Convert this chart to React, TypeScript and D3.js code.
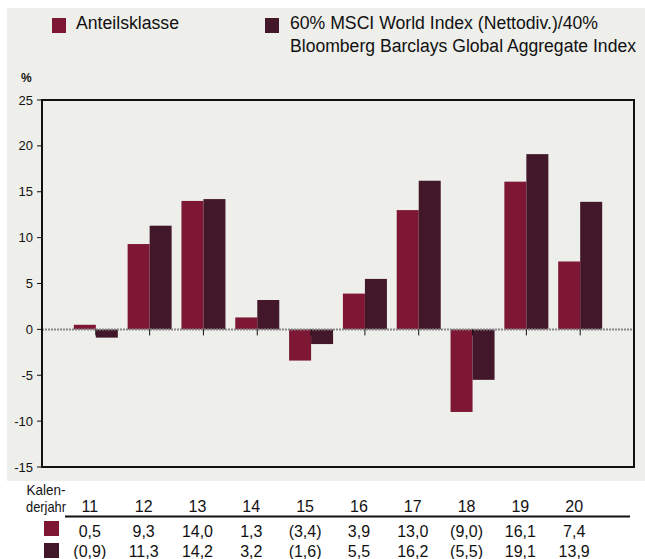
import React from "react";
import * as d3 from "d3";

const years = ["11", "12", "13", "14", "15", "16", "17", "18", "19", "20"];
const fundValues = [0.5, 9.3, 14.0, 1.3, -3.4, 3.9, 13.0, -9.0, 16.1, 7.4];
const indexValues = [-0.9, 11.3, 14.2, 3.2, -1.6, 5.5, 16.2, -5.5, 19.1, 13.9];
const yTicks = [25, 20, 15, 10, 5, 0, -5, -10, -15];
const legendFund = "Anteilsklasse";
const legendIndex1 = "60% MSCI World Index (Nettodiv.)/40%";
const legendIndex2 = "Bloomberg Barclays Global Aggregate Index";

const RED = "#7d1734";
const DARK = "#43172a";
const BG = "#eeeeea";
const FONT = "'Liberation Sans Narrow', 'Arial Narrow', 'Liberation Sans', Arial, sans-serif";

const fmt = (v: number) => {
  const s = Math.abs(v).toFixed(1).replace(".", ",");
  return v < 0 ? `(${s})` : s;
};

export default function App() {
  const W = 645, H = 559;
  const left = 42, right = 634, top = 100, bottom = 467;
  const y = d3.scaleLinear().domain([-15, 25]).range([bottom, top]);
  const x = d3.scalePoint<string>().domain(years).range([left, right]).padding(1);
  const bw = 22;
  const y0 = y(0);
  return (
    <svg width={W} height={H} style={{ position: "absolute", left: 0, top: 0 }} fontFamily={FONT}>
      <rect x={7} y={8} width={W - 7} height={473} fill={BG} />
      {/* legend */}
      <rect x={52} y={18} width={14} height={15} fill={RED} />
      <text x={76} y={29} fontSize={18} fill="#111" textLength={103} lengthAdjust="spacingAndGlyphs">{legendFund}</text>
      <rect x={265} y={18} width={14} height={15} fill={DARK} />
      <text x={290} y={29} fontSize={18} fill="#111" textLength={308} lengthAdjust="spacingAndGlyphs">{legendIndex1}</text>
      <text x={290} y={52} fontSize={18} fill="#111" textLength={346} lengthAdjust="spacingAndGlyphs">{legendIndex2}</text>
      <text x={21} y={82} fontSize={12} fontWeight="bold" fill="#111">%</text>
      {/* y ticks */}
      {yTicks.map((t) => (
        <g key={t}>
          <line x1={37} x2={left} y1={y(t)} y2={y(t)} stroke="#111" strokeWidth={1} />
          <text x={33} y={y(t)} dy="0.35em" textAnchor="end" fontSize={13} fill="#111">{t}</text>
        </g>
      ))}
      {/* bars */}
      {years.map((yr, i) => {
        const cx = x(yr) as number;
        const a = fundValues[i], b = indexValues[i];
        return (
          <g key={yr}>
            <rect x={cx - bw} y={Math.min(y(a), y0)} width={bw} height={Math.abs(y(a) - y0)} fill={RED} />
            <rect x={cx} y={Math.min(y(b), y0)} width={bw} height={Math.abs(y(b) - y0)} fill={DARK} />
          </g>
        );
      })}
      <line x1={left} x2={right} y1={y0} y2={y0} stroke="#888" strokeWidth={2} strokeDasharray="2,1" />
      {years.map((yr) => (
        <line key={yr} x1={x(yr)} x2={x(yr)} y1={y0} y2={y0 + 6} stroke="#111" strokeWidth={1} />
      ))}
      <rect x={left} y={top} width={right - left} height={bottom - top} fill="none" stroke="#111" strokeWidth={2} />
      {/* table */}
      <text x={46} y={495} fontSize={15} textAnchor="middle" fill="#111" textLength={39} lengthAdjust="spacingAndGlyphs">Kalen-</text>
      <text x={46} y={512} fontSize={15} textAnchor="middle" fill="#111" textLength={40} lengthAdjust="spacingAndGlyphs">derjahr</text>
      <line x1={65} x2={630} y1={516.5} y2={516.5} stroke="#111" strokeWidth={2} />
      <rect x={44} y={521} width={15} height={15} fill={RED} />
      <rect x={44} y={543} width={15} height={15} fill={DARK} />
      {years.map((yr, i) => {
        const cx = (x(yr) as number) - 6;
        return (
          <g key={yr} fontSize={16} textAnchor="middle" fill="#111">
            <text x={cx} y={512}>{yr}</text>
            <text x={cx} y={537}>{fmt(fundValues[i])}</text>
            <text x={cx} y={557}>{fmt(indexValues[i])}</text>
          </g>
        );
      })}
    </svg>
  );
}
